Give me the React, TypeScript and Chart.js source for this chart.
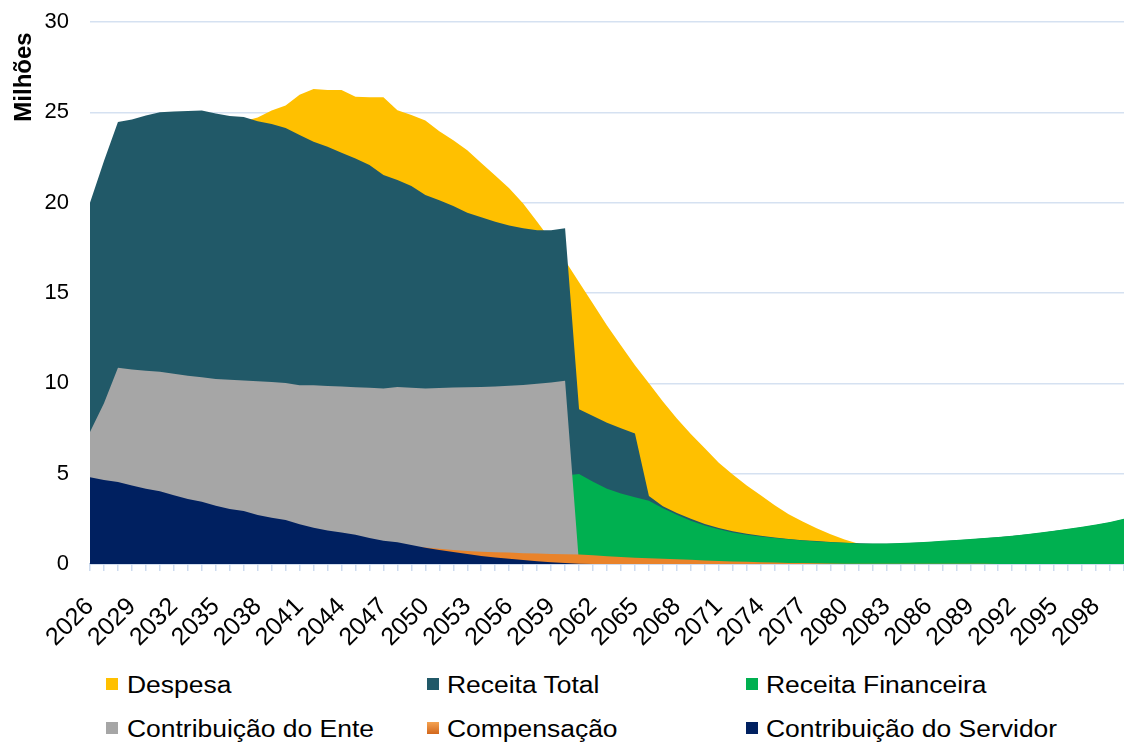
import React, { useEffect, useRef } from 'react';
import { Chart, registerables } from 'chart.js';

Chart.register(...registerables);

const FONT = '"Liberation Sans", Arial, sans-serif';

const years = [
  '2026', '2027', '2028', '2029', '2030', '2031', '2032', '2033', '2034', '2035',
  '2036', '2037', '2038', '2039', '2040', '2041', '2042', '2043', '2044', '2045',
  '2046', '2047', '2048', '2049', '2050', '2051', '2052', '2053', '2054', '2055',
  '2056', '2057', '2058', '2059', '2060', '2061', '2062', '2063', '2064', '2065',
  '2066', '2067', '2068', '2069', '2070', '2071', '2072', '2073', '2074', '2075',
  '2076', '2077', '2078', '2079', '2080', '2081', '2082', '2083', '2084', '2085',
  '2086', '2087', '2088', '2089', '2090', '2091', '2092', '2093', '2094', '2095',
  '2096', '2097', '2098', '2099', '2100',
];

const tickLabels = [
  '2026', '2029', '2032', '2035', '2038', '2041', '2044', '2047', '2050', '2053',
  '2056', '2059', '2062', '2065', '2068', '2071', '2074', '2077', '2080', '2083',
  '2086', '2089', '2092', '2095', '2098',
];

const despesa = [
  17.5, 19.5, 21.0, 22.0, 22.6, 23.1, 23.4, 23.7, 23.9, 24.1,
  24.3, 24.5, 24.72, 25.1, 25.38, 25.97, 26.29, 26.23, 26.23, 25.86,
  25.83, 25.84, 25.12, 24.85, 24.55, 23.95, 23.45, 22.9, 22.2, 21.5,
  20.8, 19.95, 18.95, 17.9, 16.8, 15.6, 14.4, 13.2, 12.1, 11.0,
  10.0, 9.0, 8.05, 7.2, 6.4, 5.6, 4.95, 4.35, 3.8, 3.25,
  2.75, 2.35, 1.98, 1.65, 1.35, 1.12, 0.95, 0.8, 0.68, 0.57,
  0.48, 0.4, 0.33, 0.27, 0.22, 0.18, 0.14, 0.11, 0.09, 0.07,
  0.05, 0.04, 0.03, 0.02, 0.02,
];

const receitaTotal = [
  20.0, 22.3, 24.46, 24.6, 24.83, 25.0, 25.05, 25.07, 25.1, 24.94,
  24.8, 24.74, 24.5, 24.35, 24.13, 23.74, 23.37, 23.1, 22.76, 22.45,
  22.08, 21.53, 21.25, 20.92, 20.42, 20.14, 19.81, 19.44, 19.19, 18.94,
  18.74, 18.58, 18.48, 18.47, 18.58, 8.56, 8.19, 7.82, 7.51, 7.23,
  3.76, 3.2, 2.82, 2.5, 2.22, 1.99, 1.81, 1.68, 1.57, 1.47,
  1.39, 1.32, 1.27, 1.22, 1.18, 1.15, 1.12, 1.12, 1.14, 1.17,
  1.21, 1.26, 1.31, 1.36, 1.42, 1.48, 1.55, 1.63, 1.72, 1.82,
  1.93, 2.04, 2.16, 2.3, 2.48,
];

const receitaFinanceira = [
  1.2, 1.4, 1.6, 1.8, 2.0, 2.1, 2.2, 2.3, 2.4, 2.5,
  2.6, 2.7, 2.8, 2.9, 3.0, 3.1, 3.2, 3.3, 3.4, 3.5,
  3.6, 3.7, 3.8, 3.9, 4.0, 4.1, 4.2, 4.3, 4.4, 4.5,
  4.6, 4.7, 4.8, 4.85, 4.9, 4.98, 4.55, 4.17, 3.9, 3.69,
  3.5, 3.08, 2.72, 2.4, 2.13, 1.92, 1.75, 1.62, 1.52, 1.44,
  1.37, 1.3, 1.25, 1.2, 1.17, 1.14, 1.13, 1.14, 1.16, 1.19,
  1.23, 1.28, 1.33, 1.38, 1.44, 1.5, 1.57, 1.65, 1.74, 1.84,
  1.95, 2.06, 2.18, 2.32, 2.5,
];

const contribuicaoEnte = [
  7.3, 8.9, 10.86, 10.76, 10.7, 10.64, 10.53, 10.42, 10.33, 10.24,
  10.2, 10.16, 10.11, 10.07, 10.02, 9.9, 9.89, 9.85, 9.82, 9.78,
  9.75, 9.72, 9.8, 9.76, 9.72, 9.74, 9.77, 9.78, 9.8, 9.83,
  9.86, 9.91, 9.98, 10.05, 10.14, 0, 0, 0, 0, 0,
  0, 0, 0, 0, 0, 0, 0, 0, 0, 0,
  0, 0, 0, 0, 0, 0, 0, 0, 0, 0,
  0, 0, 0, 0, 0, 0, 0, 0, 0, 0,
  0, 0, 0, 0, 0,
];

const compensacao = [
  0.85, 0.86, 0.88, 0.9, 0.91, 0.92, 0.93, 0.94, 0.95, 0.96,
  0.97, 0.97, 0.98, 0.98, 0.99, 0.99, 1.0, 1.0, 1.0, 1.0,
  1.0, 0.99, 0.98, 0.96, 0.92, 0.84, 0.77, 0.72, 0.68, 0.65,
  0.63, 0.6, 0.58, 0.56, 0.54, 0.52, 0.48, 0.43, 0.39, 0.35,
  0.32, 0.29, 0.26, 0.23, 0.2, 0.17, 0.14, 0.12, 0.1, 0.08,
  0.06, 0.05, 0.04, 0.03, 0.02, 0.02, 0.01, 0.01, 0.01, 0.01,
  0.01, 0.01, 0.01, 0.01, 0.01, 0, 0, 0, 0, 0,
  0, 0, 0, 0, 0,
];

const contribuicaoServidor = [
  4.8, 4.65, 4.54, 4.35, 4.17, 4.02, 3.8, 3.6, 3.45, 3.23,
  3.04, 2.93, 2.71, 2.56, 2.43, 2.2, 2.01, 1.86, 1.75, 1.62,
  1.44, 1.28, 1.2, 1.05, 0.9, 0.77, 0.66, 0.55, 0.44, 0.36,
  0.29, 0.22, 0.15, 0.09, 0.05, 0.02, 0, 0, 0, 0,
  0, 0, 0, 0, 0, 0, 0, 0, 0, 0,
  0, 0, 0, 0, 0, 0, 0, 0, 0, 0,
  0, 0, 0, 0, 0, 0, 0, 0, 0, 0,
  0, 0, 0, 0, 0,
];

const COLORS = {
  despesa: '#FFC000',
  receitaTotal: '#215968',
  financeira: '#00B050',
  ente: '#A6A6A6',
  compensacao: '#E9832A',
  servidor: '#002060',
};

const legendItems = [
  { label: 'Despesa', color: COLORS.despesa, col: 0, row: 0 },
  { label: 'Receita Total', color: COLORS.receitaTotal, col: 1, row: 0 },
  { label: 'Receita Financeira', color: COLORS.financeira, col: 2, row: 0 },
  { label: 'Contribuição do Ente', color: COLORS.ente, col: 0, row: 1 },
  { label: 'Compensação', color: 'linear-gradient(to bottom, #F4A251, #D2671C)', col: 1, row: 1 },
  { label: 'Contribuição do Servidor', color: COLORS.servidor, col: 2, row: 1 },
];

const titlePlugin = {
  id: 'yTitleMilhoes',
  afterDraw(chart: any) {
    const c = chart.ctx;
    c.save();
    c.translate(24, 77);
    c.rotate(-Math.PI / 2);
    c.font = `bold 24px ${FONT}`;
    c.fillStyle = '#000';
    c.textAlign = 'center';
    c.textBaseline = 'middle';
    c.fillText('Milhões', 0, 0);
    c.restore();
  },
};

export default function App() {
  const ref = useRef<HTMLCanvasElement>(null);

  useEffect(() => {
    const canvas = ref.current;
    if (!canvas) return;
    const mk = (label: string, data: number[], color: string) => ({
      label,
      data,
      backgroundColor: color,
      borderColor: 'rgba(0,0,0,0)',
      borderWidth: 0,
      pointRadius: 0,
      pointHoverRadius: 0,
      fill: 'origin',
      tension: 0,
    });
    const chart = new Chart(canvas, {
      type: 'line',
      data: {
        labels: years,
        datasets: [
          mk('Contribuição do Servidor', contribuicaoServidor, COLORS.servidor),
          mk('Compensação', compensacao, COLORS.compensacao),
          mk('Contribuição do Ente', contribuicaoEnte, COLORS.ente),
          mk('Receita Financeira', receitaFinanceira, COLORS.financeira),
          mk('Receita Total', receitaTotal, COLORS.receitaTotal),
          mk('Despesa', despesa, COLORS.despesa),
        ],
      },
      options: {
        responsive: false,
        animation: false,
        events: [],
        layout: { padding: { top: 22, right: 0, bottom: 0, left: 0 } },
        plugins: { legend: { display: false }, tooltip: { enabled: false } },
        scales: {
          x: {
            grid: {
              drawOnChartArea: false,
              drawTicks: true,
              tickLength: 7,
              color: '#cddbef',
              lineWidth: 1.5,
            },
            border: { display: true, color: '#b9cae3', width: 1.5 },
            ticks: {
              autoSkip: false,
              minRotation: 45,
              maxRotation: 45,
              padding: 21,
              color: '#000',
              font: { family: FONT, size: 25 },
              callback: (_v: any, i: number) => (tickLabels.includes(years[i]) ? years[i] : ''),
            },
            afterFit: (s: any) => {
              s.height = 86;
              s.paddingLeft = 0;
              s.paddingRight = 0;
            },
          },
          y: {
            min: 0,
            max: 30,
            ticks: {
              stepSize: 5,
              padding: 21,
              color: '#000',
              font: { family: FONT, size: 22 },
            },
            grid: { color: '#d5e1f1', lineWidth: 1.5, drawTicks: false },
            border: { display: false },
            afterFit: (s: any) => {
              s.width = 90;
              s.paddingTop = 0;
              s.paddingBottom = 0;
            },
          },
        },
      } as any,
      plugins: [titlePlugin],
    });
    return () => chart.destroy();
  }, []);

  const colText = [127, 447, 766];
  const colMark = [106, 427, 746];
  const rowCenter = [685, 729];

  return (
    <div
      style={{
        position: 'absolute',
        left: 0,
        top: 0,
        width: 1124,
        height: 742,
        overflow: 'hidden',
        background: '#fff',
        fontFamily: FONT,
      }}
    >
      <canvas
        ref={ref}
        width={1124}
        height={650}
        style={{ position: 'absolute', left: 0, top: 0, width: 1124, height: 650 }}
      />
      {legendItems.map((it) => (
        <React.Fragment key={it.label}>
          <div
            style={{
              position: 'absolute',
              left: colMark[it.col],
              top: rowCenter[it.row] - 7,
              width: 12,
              height: 12,
              background: it.color,
            }}
          />
          <div
            style={{
              position: 'absolute',
              left: colText[it.col],
              top: rowCenter[it.row] - 13,
              height: 26,
              lineHeight: '26px',
              fontSize: 23,
              color: '#000',
              whiteSpace: 'nowrap',
              transform: 'scaleX(1.15)',
              transformOrigin: 'left center',
            }}
          >
            {it.label}
          </div>
        </React.Fragment>
      ))}
    </div>
  );
}
